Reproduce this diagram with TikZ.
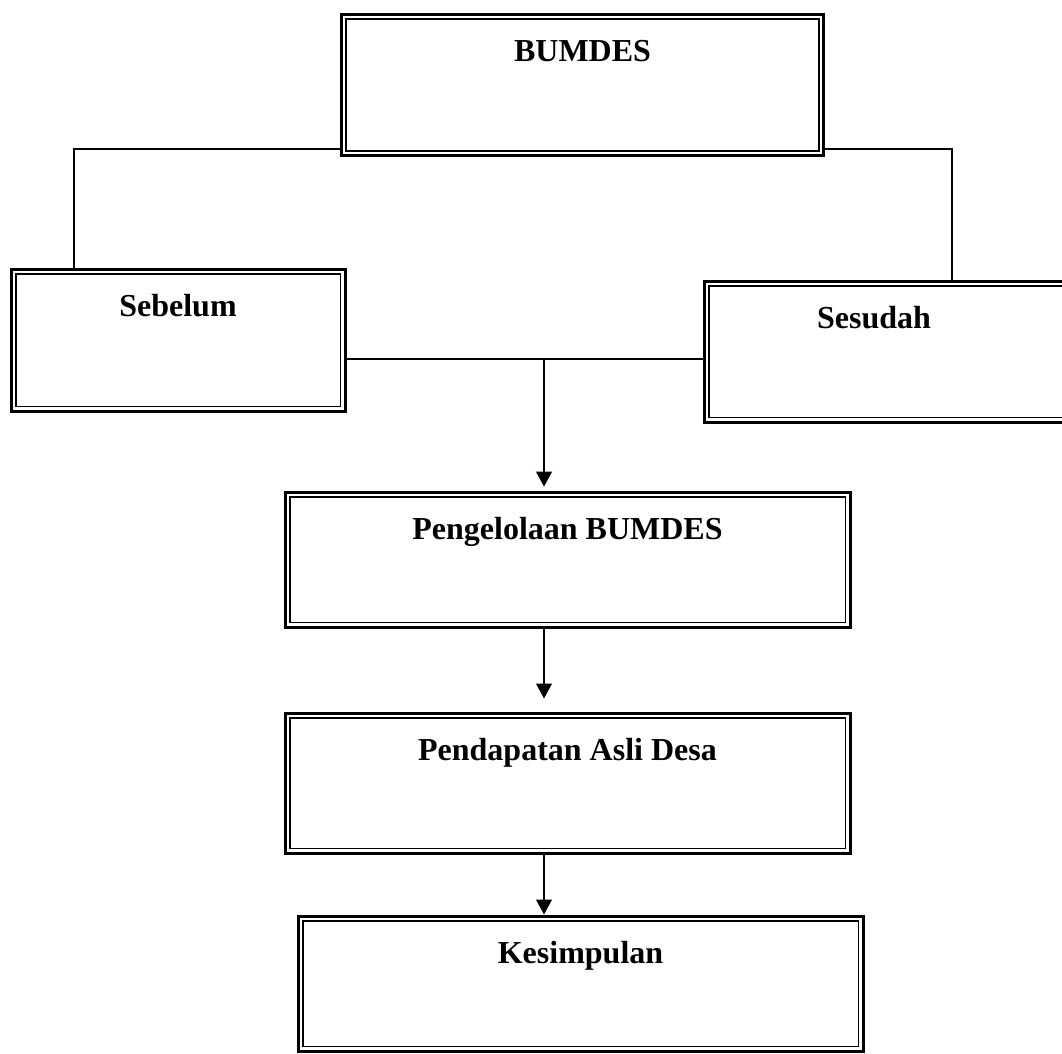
\documentclass[tikz,border=0pt]{standalone}
\usepackage{fontspec}
\setmainfont{Liberation Serif}
\usetikzlibrary{arrows.meta,calc}
\begin{document}
\begin{tikzpicture}[x=1pt,y=-1pt,
  dbox/.style 2 args={draw, line width=3pt, anchor=north west, inner sep=0pt,
    minimum width=#1, text height=47pt, text depth=#2-47pt,
    font=\fontsize{32}{38}\selectfont\bfseries,
    path picture={\draw[line width=1.8pt]
      ([shift={(4.6pt,4.6pt)}]path picture bounding box.south west) rectangle
      ([shift={(-4.6pt,-4.6pt)}]path picture bounding box.north east);}},
  conn/.style={line width=1.2pt},
  arr/.style={conn, -{Triangle[length=15pt,width=16pt]}}]
\useasboundingbox (0,0) rectangle (1062,1053);
\node[dbox={482pt}{141pt}] (bumdes) at (340,13) {BUMDES};
\node[dbox={334pt}{142pt}] (sebelum) at (9.5,267.5) {Sebelum};
\node[dbox={364pt}{141pt}] (sesudah) at (702.5,279.5) {Sesudah\hspace*{24pt}};
\node[dbox={565pt}{135pt}] (pengelolaan) at (283.5,490.5) {Pengelolaan BUMDES};
\node[dbox={565pt}{140pt}] (pendapatan) at (283.5,711.5) {Pendapatan Asli Desa};
\node[dbox={565pt}{135pt}] (kesimpulan) at (296.5,914.5) {Kesimpulan};
% connectors from BUMDES
\draw[conn] ([yshift=8pt]bumdes.south west) -| ([xshift=64.5pt]sebelum.north west);
\draw[conn] ([yshift=8pt]bumdes.south east) -| ([xshift=249.5pt]sesudah.north west);
% Sebelum -- Sesudah
\coordinate (a) at ([yshift=-91.5pt]sebelum.north east);
\draw[conn] (a) -- (a -| sesudah.west);
\coordinate (j) at ([xshift=260.5pt]pengelolaan.north west);
\draw[arr] (a -| j) -- ([yshift=4pt]j);
\draw[arr, shorten >=13pt] (pengelolaan.south -| j) -- (pendapatan.north -| j);
\draw[arr] (pendapatan.south -| j) -- (kesimpulan.north -| j);
\end{tikzpicture}
\end{document}
